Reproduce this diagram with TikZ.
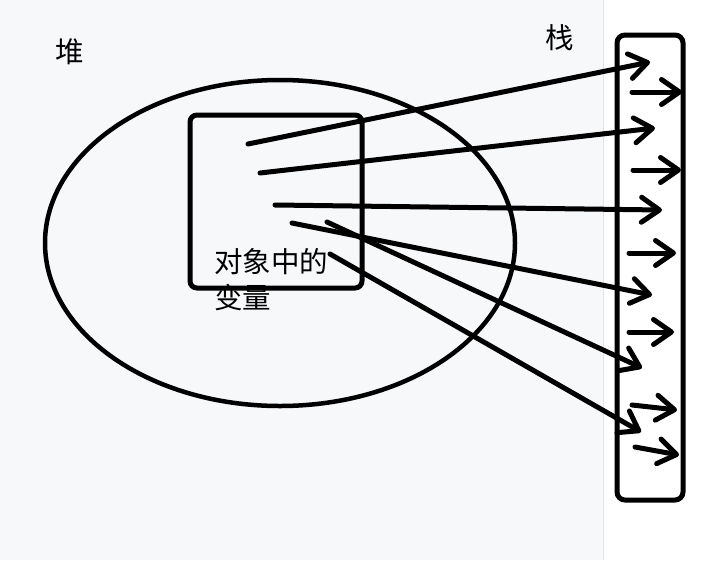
\documentclass[tikz,border=0pt]{standalone}
\usepackage{fontspec}
\newfontfamily\cjk{Noto Sans CJK SC}
\usetikzlibrary{arrows.meta, shapes.geometric, positioning}
\definecolor{pagebg}{RGB}{247,248,250}
\definecolor{seam}{RGB}{226,227,230}
\tikzset{
  heapshape/.style={draw, ellipse, line width=4.5pt, minimum width=470pt, minimum height=326pt, inner sep=0pt},
  objbox/.style={draw, line width=5pt, rounded corners=7pt, minimum width=172pt, minimum height=173pt, inner sep=0pt},
  stackbox/.style={draw, line width=5pt, rounded corners=8pt, minimum width=66pt, minimum height=465pt, inner sep=0pt},
  ref/.style={line width=5pt, line cap=round, -{Straight Barb[length=18pt, width=25pt, round]}},
  cjklabel/.style={font=\cjk\fontsize{28.5}{36}\selectfont, inner sep=0pt},
}

\begin{document}
\begin{tikzpicture}[x=1pt, y=-1pt]
  \useasboundingbox (0,0) rectangle (704,560);
  % page
  \fill[pagebg] (0,0) rectangle (603,560);
  \fill[white] (603,0) rectangle (704,560);
  \draw[seam, line width=1pt] (603,0) -- (603,560);
  % heap and stack
  \node[cjklabel] (heaplabel) at (70,52) {堆};
  \node[cjklabel] (stacklabel) at (560,38) {栈};
  \node[heapshape] (heap) at (280,243) {};
  \node[objbox] (obj) at (276,201.5) {};
  \node[cjklabel, align=left, anchor=north west] (objtext) at (214,248) {对象中的\\变量};
  \node[stackbox] (stack) at (650,267.5) {};
  % references from the object to the stack
  \foreach \n/\sx/\sy/\ex/\ey in {1/248/144/650/62, 2/260/173/655/128, 3/275/205/662/210,
      4/292/223/652/295, 5/327/222/642/368, 6/330/254/641/432} {
    \coordinate (var\n) at (\sx,\sy);
    \coordinate (slot\n) at (\ex,\ey);
    \draw[ref] (var\n) -- (slot\n);
  }
  % references inside the stack
  \foreach \n/\sx/\sy/\ex/\ey in {1/632/92/682/92, 2/633/170/681/170, 3/629/253/676/253,
      4/629/332/674/332, 5/632/405/677/410, 6/635/447/679/455} {
    \coordinate (cell\n) at (\sx,\sy);
    \coordinate (cellend\n) at (\ex,\ey);
    \draw[ref] (cell\n) -- (cellend\n);
  }
\end{tikzpicture}
\end{document}
